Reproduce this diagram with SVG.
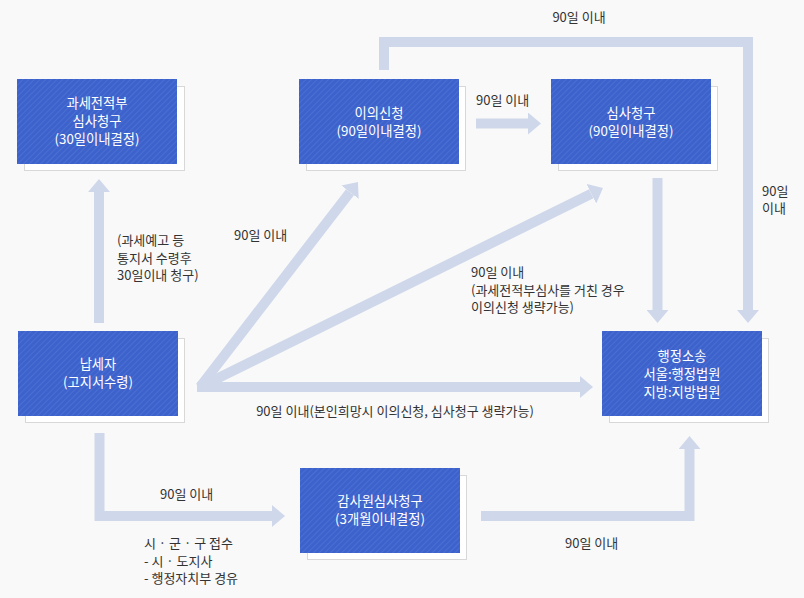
<svg xmlns="http://www.w3.org/2000/svg" width="804" height="598" viewBox="0 0 804 598">
<style>
.lbl{font-family:"Noto Sans CJK KR","Liberation Sans",sans-serif;font-size:13px;fill:#333}
.nt{font-family:"Noto Sans CJK KR","Liberation Sans",sans-serif;font-size:13.3px;fill:#fff;text-anchor:middle}
.sh{fill:#fff;stroke:#d8d8d8;stroke-width:1}
.bx{fill:url(#hatch)}
.c{fill:none;stroke:#cfd8ea;stroke-width:10;stroke-linecap:butt;stroke-linejoin:miter;marker-end:url(#ah)}
</style>
<defs>
<pattern id="hatch" patternUnits="userSpaceOnUse" width="4" height="4" patternTransform="rotate(45)">
<rect width="4" height="4" fill="#3d62cb"/>
<rect width="1" height="4" fill="#4a6fd3"/>
</pattern>
<marker id="ah" markerUnits="userSpaceOnUse" markerWidth="13" markerHeight="22" viewBox="0 0 13 22" refX="0" refY="11" orient="auto">
<path d="M0,0 L13,11 L0,22 Z" fill="#cfd8ea"/>
</marker>
</defs>
<rect width="804" height="598" fill="#f9f9f9"/>
<g id="connectors">
<line class="c" x1="99" y1="323" x2="99" y2="192"/>
<line class="c" x1="200" y1="387" x2="350" y2="192.2"/>
<line class="c" x1="200" y1="387" x2="591.3" y2="193.8"/>
<line class="c" x1="197" y1="387" x2="580" y2="387"/>
<line class="c" x1="476" y1="123.5" x2="528" y2="123.5"/>
<polyline class="c" points="384,70 384,42 748,42 748,310"/>
<line class="c" x1="657.5" y1="178" x2="657.5" y2="310"/>
<polyline class="c" points="99.5,433 99.5,516 272,516"/>
<polyline class="c" points="481,516 689.5,516 689.5,449"/>
</g>
<g id="n-gwase">
<rect class="sh" x="24.5" y="86.5" width="160" height="84"/>
<rect class="bx" x="17" y="79" width="160" height="85"/>
<text class="nt" x="97" y="107.5">과세전적부</text>
<text class="nt" x="97" y="125.5">심사청구</text>
<text class="nt" x="97" y="143.5">(30일이내결정)</text>
</g>
<g id="n-iui">
<rect class="sh" x="306.5" y="86.5" width="159" height="84"/>
<rect class="bx" x="299" y="79" width="160" height="85"/>
<text class="nt" x="379" y="117.5">이의신청</text>
<text class="nt" x="379" y="135.5">(90일이내결정)</text>
</g>
<g id="n-simsa">
<rect class="sh" x="558.5" y="86.5" width="159" height="84"/>
<rect class="bx" x="551" y="79" width="160" height="85"/>
<text class="nt" x="631" y="117.5">심사청구</text>
<text class="nt" x="631" y="135.5">(90일이내결정)</text>
</g>
<g id="n-napse">
<rect class="sh" x="25.5" y="338.5" width="159" height="84"/>
<rect class="bx" x="18" y="331" width="160" height="85"/>
<text class="nt" x="98" y="369">납세자</text>
<text class="nt" x="98" y="387">(고지서수령)</text>
</g>
<g id="n-haengjeong">
<rect class="sh" x="609.5" y="338.5" width="159" height="84"/>
<rect class="bx" x="602" y="331" width="160" height="85"/>
<text class="nt" x="682" y="361">행정소송</text>
<text class="nt" x="682" y="379">서울:행정법원</text>
<text class="nt" x="682" y="397">지방:지방법원</text>
</g>
<g id="n-gamsa">
<rect class="sh" x="307.5" y="475.5" width="159" height="84"/>
<rect class="bx" x="300" y="468" width="160" height="85"/>
<text class="nt" x="380" y="505.5">감사원심사청구</text>
<text class="nt" x="380" y="523.5">(3개월이내결정)</text>
</g>
<g id="labels">
<text class="lbl" x="579" y="21.5" text-anchor="middle">90일 이내</text>
<text class="lbl" x="476" y="105">90일 이내</text>
<text class="lbl" x="762" y="195.5">90일</text>
<text class="lbl" x="762" y="213">이내</text>
<text class="lbl" x="117" y="245">(과세예고 등</text>
<text class="lbl" x="117" y="262.5">통지서 수령후</text>
<text class="lbl" x="117" y="280">30일이내 청구)</text>
<text class="lbl" x="234" y="239.5">90일 이내</text>
<text class="lbl" x="471" y="277">90일 이내</text>
<text class="lbl" x="471" y="294.5">(과세전적부심사를 거친 경우</text>
<text class="lbl" x="471" y="312">이의신청 생략가능)</text>
<text class="lbl" x="395" y="416" text-anchor="middle">90일 이내(본인희망시 이의신청, 심사청구 생략가능)</text>
<text class="lbl" x="160" y="498.5">90일 이내</text>
<text class="lbl" x="144" y="548">시 · 군 · 구 접수</text>
<text class="lbl" x="144" y="565.5">- 시 · 도지사</text>
<text class="lbl" x="144" y="583">- 행정자치부 경유</text>
<text class="lbl" x="565" y="548">90일 이내</text>
</g>
</svg>
